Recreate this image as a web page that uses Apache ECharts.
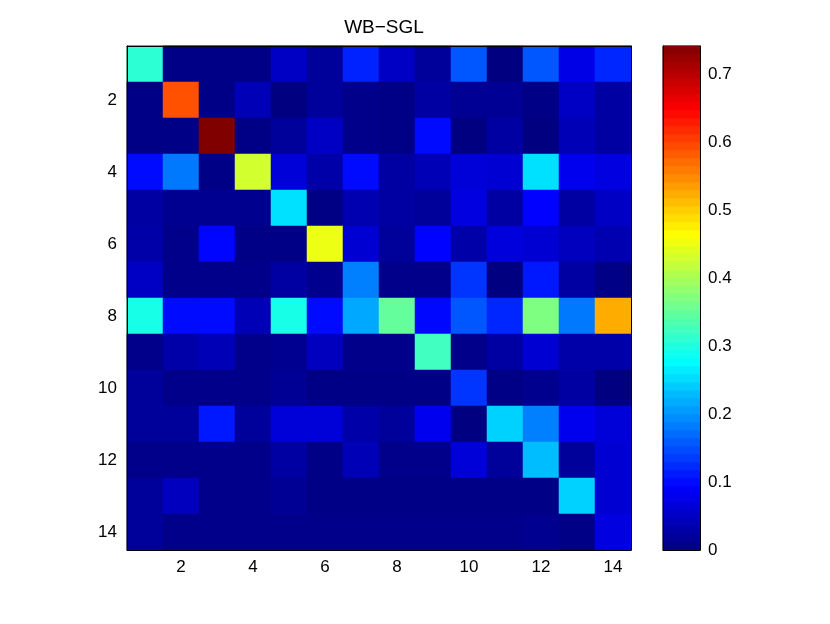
<!DOCTYPE html>
<html>
<head>
<meta charset="utf-8">
<script src="https://cdn.jsdelivr.net/npm/echarts@6/dist/echarts.min.js"></script>
<style>
html, body { margin: 0; padding: 0; background: #fff; }
#main { width: 830px; height: 624px; }
</style>
</head>
<body>
<div id="main"></div>
<script>
// WB-SGL 14x14 矩阵
var labels = ['1', '2', '3', '4', '5', '6', '7', '8', '9', '10', '11', '12', '13', '14'];
var cbTicks = [0, 0.1, 0.2, 0.3, 0.4, 0.5, 0.6, 0.7];
var vMax = 0.741;

var wbSgl = [
    [0.31, 0.005, 0.005, 0.005, 0.05, 0.02, 0.117, 0.05, 0.02, 0.155, 0.0, 0.155, 0.075, 0.12],
    [0.005, 0.59, 0.005, 0.04, 0.0, 0.02, 0.008, 0.005, 0.025, 0.015, 0.015, 0.005, 0.05, 0.025],
    [0.005, 0.005, 0.741, 0.005, 0.02, 0.05, 0.008, 0.005, 0.1, 0.0, 0.025, 0.0, 0.04, 0.025],
    [0.1, 0.18, 0.005, 0.43, 0.065, 0.03, 0.1, 0.025, 0.04, 0.065, 0.06, 0.255, 0.08, 0.07],
    [0.025, 0.012, 0.012, 0.01, 0.255, 0.003, 0.035, 0.025, 0.02, 0.07, 0.025, 0.093, 0.025, 0.05],
    [0.03, 0.008, 0.096, 0.005, 0.005, 0.45, 0.06, 0.02, 0.094, 0.03, 0.068, 0.06, 0.045, 0.035],
    [0.05, 0.008, 0.008, 0.008, 0.025, 0.01, 0.185, 0.008, 0.008, 0.13, 0.0, 0.11, 0.025, 0.005],
    [0.295, 0.1, 0.1, 0.04, 0.295, 0.1, 0.215, 0.35, 0.098, 0.155, 0.12, 0.37, 0.18, 0.524],
    [0.008, 0.03, 0.04, 0.008, 0.012, 0.045, 0.008, 0.008, 0.324, 0.008, 0.025, 0.06, 0.03, 0.03],
    [0.02, 0.008, 0.008, 0.008, 0.015, 0.005, 0.005, 0.005, 0.005, 0.13, 0.005, 0.01, 0.025, 0.0],
    [0.02, 0.02, 0.11, 0.02, 0.065, 0.065, 0.03, 0.02, 0.08, 0.0, 0.245, 0.185, 0.08, 0.065],
    [0.008, 0.008, 0.008, 0.008, 0.025, 0.005, 0.04, 0.008, 0.008, 0.065, 0.02, 0.23, 0.02, 0.06],
    [0.02, 0.045, 0.008, 0.008, 0.015, 0.005, 0.005, 0.005, 0.005, 0.005, 0.005, 0.005, 0.245, 0.06],
    [0.02, 0.008, 0.008, 0.008, 0.008, 0.008, 0.008, 0.008, 0.008, 0.008, 0.008, 0.012, 0.005, 0.07]
];

// jet colormap
var jet = ['#000080', '#0000ff', '#0080ff', '#00ffff', '#80ff80', '#ffff00', '#ff8000', '#ff0000', '#800000'];

var heatData = [];
wbSgl.forEach(function (row, r) {
    row.forEach(function (v, c) {
        heatData.push([c, r, v]);
    });
});

// colorbar: 63 bands, 8px each
var nBands = 63;
var levels = [];
var levelData = [];
for (var i = 0; i < nBands; i++) {
    levels.push(String(i));
    levelData.push([0, i, (i + 0.5) / nBands * vMax]);
}

var font = 'Liberation Sans, Arial, Helvetica, sans-serif';
var evenOnly = function (index) { return index % 2 === 1; };
var black = { color: '#000', width: 1 };

var myChart = echarts.init(document.getElementById('main'));

option = {
    animation: false,
    backgroundColor: '#fff',
    title: {
        text: 'WB\u2212SGL',
        left: 379,
        top: 13,
        textAlign: 'center',
        textStyle: { fontFamily: font, fontSize: 19, fontWeight: 'normal', color: '#000' }
    },
    grid: [
        { left: 127, top: 46, width: 504, height: 504, show: true, borderColor: '#000', borderWidth: 1, backgroundColor: 'transparent' },
        { left: 663, top: 46, width: 37, height: 504, show: true, borderColor: '#000', borderWidth: 1, backgroundColor: 'transparent' }
    ],
    visualMap: {
        show: false,
        type: 'continuous',
        min: 0,
        max: vMax,
        seriesIndex: [0, 1],
        dimension: 2,
        inRange: { color: jet }
    },
    xAxis: [
        {
            type: 'category', gridIndex: 0, data: labels, position: 'bottom', z: 10,
            axisLine: { lineStyle: black },
            axisTick: { inside: true, alignWithLabel: true, length: 5, interval: evenOnly, lineStyle: black },
            axisLabel: { interval: evenOnly, color: '#000', fontFamily: font, fontSize: 17, margin: 9 },
            splitLine: { show: false }
        },
        {
            type: 'category', gridIndex: 0, data: labels, position: 'top', z: 10,
            axisLine: { lineStyle: black },
            axisTick: { inside: true, alignWithLabel: true, length: 5, interval: evenOnly, lineStyle: black },
            axisLabel: { show: false },
            splitLine: { show: false }
        },
        {
            type: 'category', gridIndex: 1, data: ['c'], z: 10,
            axisLine: { lineStyle: black }, axisTick: { show: false }, axisLabel: { show: false }
        }
    ],
    yAxis: [
        {
            type: 'category', gridIndex: 0, data: labels, inverse: true, position: 'left', z: 10,
            axisLine: { lineStyle: black },
            axisTick: { inside: true, alignWithLabel: true, length: 5, interval: evenOnly, lineStyle: black },
            axisLabel: { interval: evenOnly, color: '#000', fontFamily: font, fontSize: 17, margin: 10 },
            splitLine: { show: false }
        },
        {
            type: 'category', gridIndex: 0, data: labels, inverse: true, position: 'right', z: 10,
            axisLine: { lineStyle: black },
            axisTick: { inside: true, alignWithLabel: true, length: 5, interval: evenOnly, lineStyle: black },
            axisLabel: { show: false },
            splitLine: { show: false }
        },
        {
            type: 'category', gridIndex: 1, data: levels, position: 'left',
            axisLine: { show: false }, axisTick: { show: false }, axisLabel: { show: false }
        },
        {
            type: 'value', gridIndex: 1, min: 0, max: vMax, interval: 0.1, position: 'right', z: 10,
            axisLine: { show: true, lineStyle: black },
            axisTick: { inside: true, length: 5, lineStyle: black },
            axisLabel: {
                color: '#000', fontFamily: font, fontSize: 17, margin: 8, showMaxLabel: false,
                formatter: function (v) { return v === 0 ? '0' : v.toFixed(1); }
            },
            splitLine: { show: false }
        },
        {
            type: 'value', gridIndex: 1, min: 0, max: vMax, interval: 0.1, position: 'left', z: 10,
            axisLine: { show: true, lineStyle: black },
            axisTick: { inside: true, length: 5, lineStyle: black },
            axisLabel: { show: false },
            splitLine: { show: false }
        }
    ],
    series: [
        {
            name: 'WB-SGL',
            type: 'heatmap',
            xAxisIndex: 0,
            yAxisIndex: 0,
            data: heatData,
            emphasis: { disabled: true }
        },
        {
            name: 'colorbar',
            type: 'heatmap',
            xAxisIndex: 2,
            yAxisIndex: 2,
            data: levelData,
            emphasis: { disabled: true }
        }
    ]
};
myChart.setOption(option);
</script>
</body>
</html>
